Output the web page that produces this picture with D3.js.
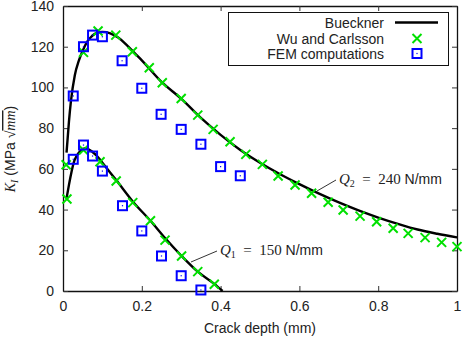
<!DOCTYPE html>
<html>
<head>
<meta charset="utf-8">
<script src="https://cdn.jsdelivr.net/npm/d3@7"></script>
<style>
  html, body { margin: 0; padding: 0; background: #fff; }
  svg text { fill: #222; }
</style>
</head>
<body>
<svg id="chart" width="463" height="338"></svg>
<script>
// ── Data ──────────────────────────────────────────────────────────────────────

const xTicks = [0, 0.2, 0.4, 0.6, 0.8, 1];
const xTickLabels = ['0', '0.2', '0.4', '0.6', '0.8', '1'];
const yTicks = [0, 20, 40, 60, 80, 100, 120, 140];

// Bueckner curves [crack depth, K_I]
const buecknerQ2 = [
  [0.009, 68], [0.015, 83], [0.02, 93], [0.03, 106], [0.04, 113], [0.05, 118],
  [0.06, 122], [0.07, 124.5], [0.08, 126.2], [0.09, 127.1], [0.1, 127.3],
  [0.12, 126.6], [0.14, 124.5], [0.16, 121.2], [0.18, 117.2], [0.2, 113.3],
  [0.25, 102.7], [0.3, 94.5], [0.35, 85.0], [0.4, 76.7], [0.45, 69.3],
  [0.5, 63.0], [0.55, 57.5], [0.6, 52.5], [0.65, 47.8], [0.7, 43.5],
  [0.75, 39.6], [0.8, 36.1], [0.85, 33.0], [0.9, 30.2], [0.95, 28.1], [1.0, 26.3]
];
const buecknerQ1 = [
  [0.009, 45.5], [0.015, 52], [0.02, 57], [0.028, 63.5], [0.035, 66.5],
  [0.045, 69], [0.055, 70], [0.065, 69.6], [0.075, 68.3], [0.09, 65.5],
  [0.1, 63], [0.135, 54.5], [0.177, 44], [0.222, 34.5], [0.259, 26],
  [0.301, 17.2], [0.342, 9.5], [0.384, 3.5], [0.405, 0]
];

// Wu and Carlsson
const wuQ2 = [
  [0.008, 62], [0.052, 117.2], [0.089, 127.7], [0.134, 125.7], [0.176, 117.5],
  [0.219, 109.7], [0.252, 102.3], [0.300, 94.6], [0.342, 86.4], [0.381, 79.4],
  [0.424, 73.3], [0.464, 67.1], [0.506, 62.2], [0.546, 56.5], [0.589, 52.1],
  [0.631, 48.0], [0.673, 43.6], [0.711, 39.8], [0.754, 36.8], [0.796, 34.0],
  [0.838, 30.8], [0.876, 28.3], [0.919, 26.2], [0.961, 23.9], [1.0, 21.8]
];
const wuQ1 = [
  [0.01, 45.2], [0.052, 69.3], [0.094, 63.5], [0.135, 54.0], [0.177, 43.4],
  [0.222, 34.5], [0.259, 25.0], [0.301, 17.2], [0.342, 9.5], [0.384, 3.3]
];

// FEM computations
const femQ2 = [
  [0.026, 95.8], [0.052, 120], [0.075, 125.7], [0.1, 124.9], [0.15, 113.1],
  [0.2, 99.6], [0.249, 86.8], [0.3, 79.4], [0.35, 72.1], [0.4, 61.1], [0.45, 56.6]
];
const femQ1 = [
  [0.026, 64.7], [0.052, 71.7], [0.075, 66.3], [0.1, 58.9], [0.151, 41.9],
  [0.2, 29.5], [0.25, 17.2], [0.3, 7.5], [0.35, 0.5]
];

const legendLabels = ['Bueckner', 'Wu and Carlsson', 'FEM computations'];

// ── Layout ────────────────────────────────────────────────────────────────────

const SANS  = '"Liberation Sans", Arial, sans-serif';
const SERIF = '"Liberation Serif", "DejaVu Serif", serif';
const GREEN = '#00e000';
const BLUE  = '#0000ff';

const L = 63, R = 457, T = 6, B = 291;
const svg = d3.select('#chart');
const x = d3.scaleLinear().domain([0, 1]).range([L, R]);
const y = d3.scaleLinear().domain([0, 140]).range([B, T]);

// ── Axes ──────────────────────────────────────────────────────────────────────

const tickLen = 5;
const axes = svg.append('g');

axes.append('g').attr('transform', `translate(0,${B})`)
  .call(d3.axisBottom(x).tickValues(xTicks).tickFormat((d, i) => xTickLabels[i])
    .tickSizeInner(-tickLen).tickSizeOuter(0).tickPadding(10));
axes.append('g').attr('transform', `translate(0,${T})`)
  .call(d3.axisTop(x).tickValues(xTicks).tickFormat('')
    .tickSizeInner(-tickLen).tickSizeOuter(0));
axes.append('g').attr('transform', `translate(${L},0)`)
  .call(d3.axisLeft(y).tickValues(yTicks)
    .tickSizeInner(-tickLen).tickSizeOuter(0).tickPadding(9));
axes.append('g').attr('transform', `translate(${R},0)`)
  .call(d3.axisRight(y).tickValues(yTicks).tickFormat('')
    .tickSizeInner(-tickLen).tickSizeOuter(0));

axes.selectAll('.domain').attr('stroke', '#111').attr('stroke-width', 1.3);
axes.selectAll('.tick line').attr('stroke', '#333').attr('stroke-width', 1);
axes.selectAll('.tick text')
  .attr('font-family', SANS).attr('font-size', 14).attr('fill', '#222');

// Axis titles
svg.append('text')
  .attr('x', (L + R) / 2).attr('y', 333)
  .attr('text-anchor', 'middle')
  .attr('font-family', SANS).attr('font-size', 14)
  .text('Crack depth (mm)');

const yl = svg.append('text')
  .attr('transform', 'translate(15,149) rotate(-90)')
  .attr('text-anchor', 'middle')
  .attr('font-family', SANS).attr('font-size', 14);
yl.append('tspan').attr('font-family', SERIF).attr('font-style', 'italic').text('K');
yl.append('tspan').attr('font-family', SERIF).attr('font-style', 'italic')
  .attr('font-size', 10).attr('dy', 3).text('I');
yl.append('tspan').attr('dy', -3).text('\u00a0(MPa\u00a0');
yl.append('tspan').attr('font-family', SERIF).text('\u221a');
yl.append('tspan').attr('font-family', SERIF).attr('font-style', 'italic')
  .style('text-decoration', 'overline').text('mm');
yl.append('tspan').text(')');

// ── Curves ────────────────────────────────────────────────────────────────────

const line = d3.line().x(d => x(d[0])).y(d => y(d[1])).curve(d3.curveMonotoneX);
[buecknerQ2, buecknerQ1].forEach(s => {
  svg.append('path').datum(s)
    .attr('d', line)
    .attr('fill', 'none')
    .attr('stroke', '#000')
    .attr('stroke-width', 2.4);
});

// ── Markers ───────────────────────────────────────────────────────────────────

function drawCross(g, cx, cy) {
  const s = 4.5;
  g.append('path')
    .attr('d', `M${cx - s},${cy - s}L${cx + s},${cy + s}M${cx - s},${cy + s}L${cx + s},${cy - s}`)
    .attr('stroke', GREEN).attr('stroke-width', 2).attr('fill', 'none');
}
function drawSquare(g, cx, cy) {
  const s = 4.5;
  g.append('rect')
    .attr('x', cx - s).attr('y', cy - s).attr('width', 2 * s).attr('height', 2 * s)
    .attr('fill', 'none').attr('stroke', BLUE).attr('stroke-width', 2);
  g.append('rect')
    .attr('x', cx - 0.6).attr('y', cy - 0.6).attr('width', 1.2).attr('height', 1.2)
    .attr('fill', BLUE);
}

const marks = svg.append('g');
[wuQ2, wuQ1].forEach(s => s.forEach(d => drawCross(marks, x(d[0]), y(d[1]))));
[femQ2, femQ1].forEach(s => s.forEach(d => drawSquare(marks, x(d[0]), y(d[1]))));

// ── Curve annotations ─────────────────────────────────────────────────────────

function qLabel(tx, ty, sub, val, lineFrom) {
  svg.append('line')
    .attr('x1', lineFrom[0]).attr('y1', lineFrom[1])
    .attr('x2', tx - 3).attr('y2', ty + 1)
    .attr('stroke', '#333').attr('stroke-width', 1);
  const t = svg.append('text')
    .attr('x', tx).attr('y', ty + 5)
    .attr('font-family', SERIF).attr('font-size', 15).attr('fill', '#333');
  t.append('tspan').attr('font-style', 'italic').text('Q');
  t.append('tspan').attr('font-size', 10).attr('dy', 3).text(sub);
  t.append('tspan').attr('dy', -3).text('\u2002=\u2002' + val + '\u00a0');
  t.append('tspan').attr('font-family', SANS).attr('font-size', 14).text('N/mm');
}
qLabel(220, 250, '1', 150, [191, 262]);
qLabel(339, 179, '2', 240, [317, 191]);

// ── Legend ────────────────────────────────────────────────────────────────────

const lg = svg.append('g');
lg.append('rect')
  .attr('x', 228.5).attr('y', 12.5).attr('width', 220).attr('height', 53)
  .attr('fill', '#fff').attr('stroke', '#111').attr('stroke-width', 1);
const rowY = [22.5, 38.5, 53.5];
legendLabels.forEach((lab, i) => {
  lg.append('text')
    .attr('x', 384).attr('y', rowY[i] + 5)
    .attr('text-anchor', 'end')
    .attr('font-family', SANS).attr('font-size', 14)
    .text(lab);
});
lg.append('line')
  .attr('x1', 395).attr('x2', 438).attr('y1', rowY[0]).attr('y2', rowY[0])
  .attr('stroke', '#000').attr('stroke-width', 2.4);
drawCross(lg, 417, rowY[1]);
drawSquare(lg, 417, rowY[2]);
</script>
</body>
</html>
